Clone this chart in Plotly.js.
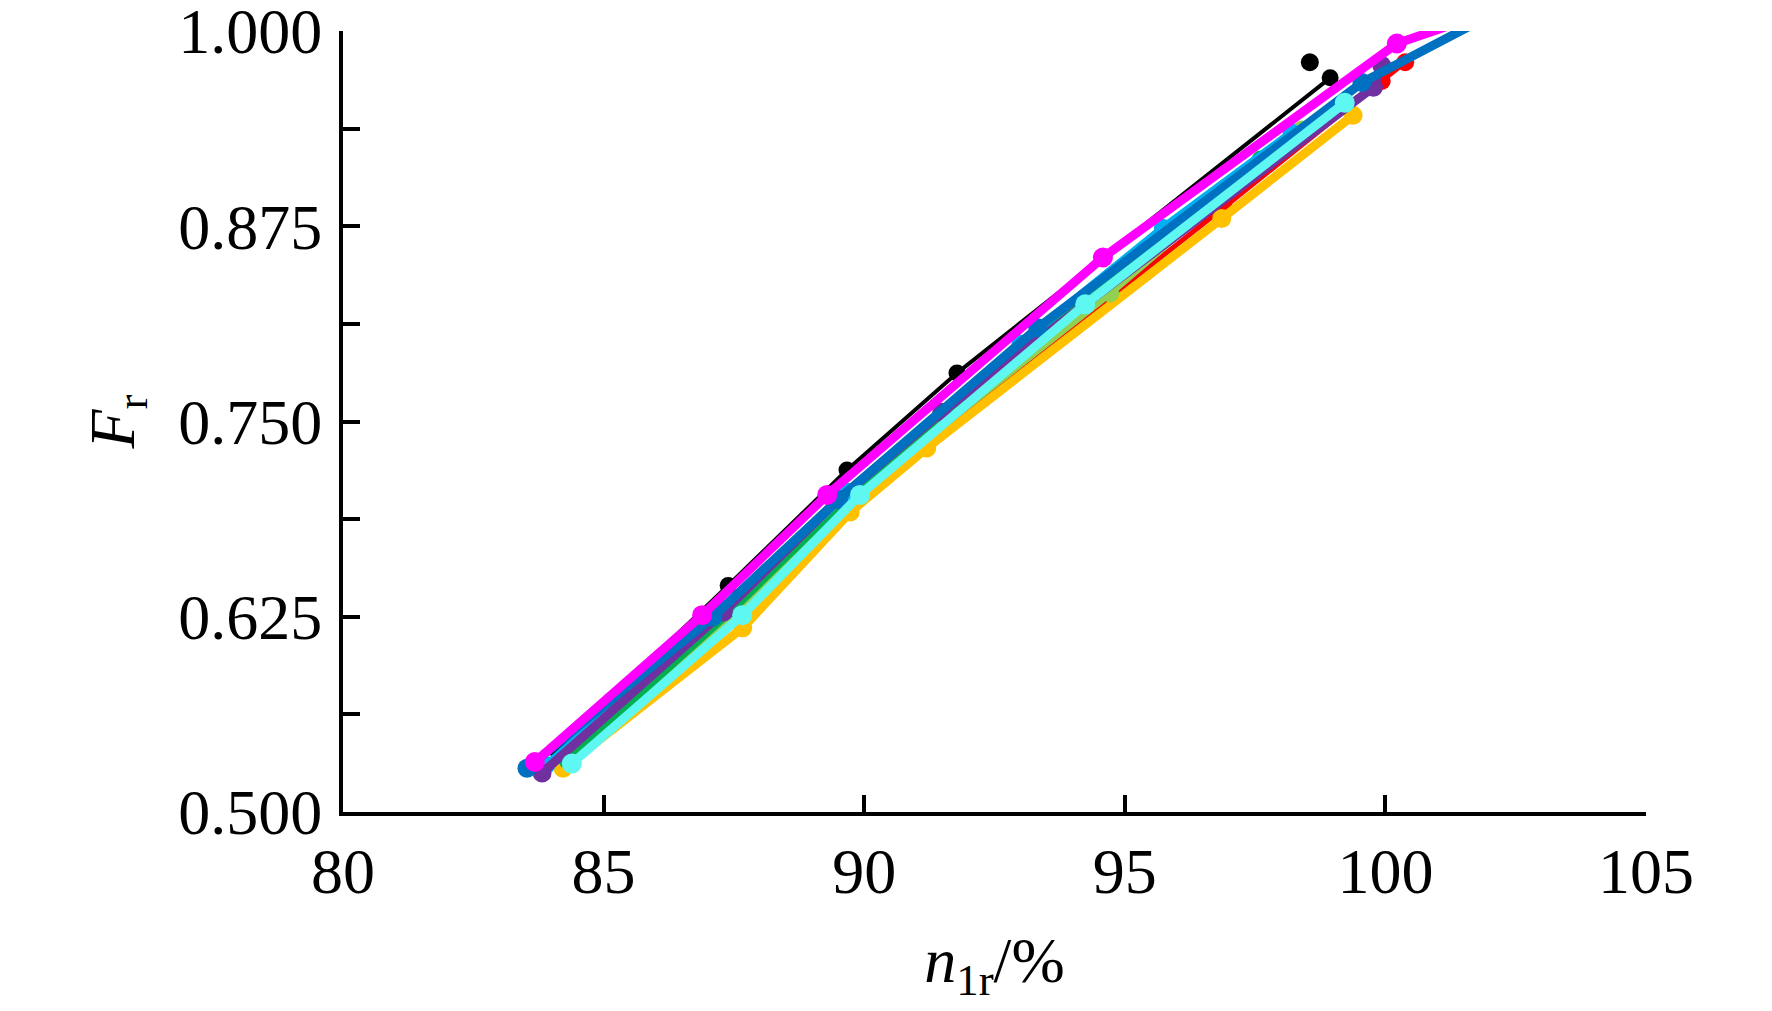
<!DOCTYPE html>
<html>
<head>
<meta charset="utf-8">
<script src="https://cdn.plot.ly/plotly-3.0.1.min.js"></script>
<style>
  html, body { margin: 0; padding: 0; background: #fff; }
  #graph { width: 1772px; height: 1011px; }
</style>
</head>
<body>
<div id="graph"></div>
<script>
// values (n1r in %, Fr)
var blackX = [84.1, 87.39, 89.67, 91.78, 98.94];
var blackY = [0.540, 0.645, 0.719, 0.781, 0.970];
var blackExtraX = [98.55];
var blackExtraY = [0.980];

var redX = [84.4, 87.67, 89.8, 96.9, 99.93, 100.38];
var redY = [0.535, 0.634, 0.700, 0.887, 0.968, 0.980];

var orangeX = [84.22, 87.67, 89.73, 91.20, 96.86, 99.38];
var orangeY = [0.528, 0.618, 0.692, 0.733, 0.880, 0.946];

var lightGreenX = [84.36, 87.6, 89.9, 94.72, 97.75, 98.40];
var lightGreenY = [0.533, 0.628, 0.705, 0.832, 0.919, 0.937];

var greenX = [84.3, 87.5, 89.8, 92.74, 97.6];
var greenY = [0.533, 0.630, 0.705, 0.788, 0.918];

var lightBlueX = [83.9, 87.3, 89.7, 93.0, 95.73, 98.2];
var lightBlueY = [0.530, 0.630, 0.705, 0.800, 0.874, 0.935];

var purpleX = [83.82, 87.3, 89.5, 91.49, 99.77, 99.93];
var purpleY = [0.525, 0.628, 0.700, 0.756, 0.964, 0.978];

var blueX = [83.53, 87.10, 89.5, 93.33, 99.55, 102.3];
var blueY = [0.528, 0.625, 0.700, 0.810, 0.967, 1.015];

var cyanX = [84.39, 87.66, 89.92, 94.24, 99.22];
var cyanY = [0.531, 0.626, 0.703, 0.825, 0.954];

var magentaX = [83.68, 86.89, 89.29, 94.58, 100.22, 101.8];
var magentaY = [0.532, 0.626, 0.703, 0.855, 0.992, 1.010];

var yTickVals = [0.5, 0.625, 0.75, 0.875, 1.0];
var yTickText = ['0.500', '0.625', '0.750', '0.875', '1.000'];
var yMinorVals = [0.5625, 0.6875, 0.8125, 0.9375];
var xTickVals = [80, 85, 90, 95, 100, 105];
var xTickText = ['80', '85', '90', '95', '100', '105'];

function series(x, y, color, lw, ms) {
  return {
    x: x, y: y,
    type: 'scatter',
    mode: 'lines+markers',
    line: { color: color, width: lw },
    marker: { color: color, size: ms },
    hoverinfo: 'skip'
  };
}

var data = [
  series(blackX, blackY, '#000000', 4, 17),
  { x: blackExtraX, y: blackExtraY, type: 'scatter', mode: 'markers',
    marker: { color: '#000000', size: 18 }, hoverinfo: 'skip' },
  series(redX, redY, '#FF0000', 5, 18),
  series(orangeX, orangeY, '#FFC000', 9, 19),
  series(lightGreenX, lightGreenY, '#92D050', 7, 18),
  series(greenX, greenY, '#00B050', 7, 17),
  series(lightBlueX, lightBlueY, '#00B0F0', 8, 18),
  series(purpleX, purpleY, '#7030A0', 9, 19),
  series(blueX, blueY, '#0070C0', 9, 19),
  series(cyanX, cyanY, '#5FF7F2', 9, 20),
  series(magentaX, magentaY, '#FF00FF', 9, 20)
];

var font = 'Liberation Serif, Times New Roman, serif';

var layout = {
  width: 1772,
  height: 1011,
  showlegend: false,
  paper_bgcolor: '#ffffff',
  plot_bgcolor: '#ffffff',
  margin: { l: 343, r: 126, t: 31, b: 199 },
  font: { family: font, size: 64, color: '#000' },
  xaxis: {
    range: [80, 105],
    tickvals: xTickVals,
    ticktext: xTickText,
    ticks: 'inside',
    ticklen: 17,
    tickwidth: 4,
    tickcolor: '#000',
    showline: true,
    linewidth: 4,
    linecolor: '#000',
    showgrid: false,
    zeroline: false,
    ticklabelstandoff: 0,
    ticklabeloverflow: 'allow',
    tickfont: { family: font, size: 64, color: '#000' },
    title: { text: '<i>n</i><sub>1r</sub>/%', font: { family: font, size: 64, color: '#000' }, standoff: 32 }
  },
  yaxis: {
    range: [0.5, 1.0],
    tickvals: yTickVals,
    ticktext: yTickText,
    ticks: 'inside',
    ticklen: 17,
    tickwidth: 4,
    tickcolor: '#000',
    minor: { tickvals: yMinorVals, ticks: 'inside', ticklen: 17, tickwidth: 4, tickcolor: '#000', showgrid: false },
    showline: true,
    linewidth: 4,
    linecolor: '#000',
    showgrid: false,
    zeroline: false,
    ticklabelstandoff: 4,
    ticklabeloverflow: 'allow',
    tickfont: { family: font, size: 64, color: '#000' },
    title: { text: '<i>F</i><sub>r</sub>', font: { family: font, size: 64, color: '#000' }, standoff: 24 }
  }
};

Plotly.newPlot('graph', data, layout, { staticPlot: true });
</script>
</body>
</html>
